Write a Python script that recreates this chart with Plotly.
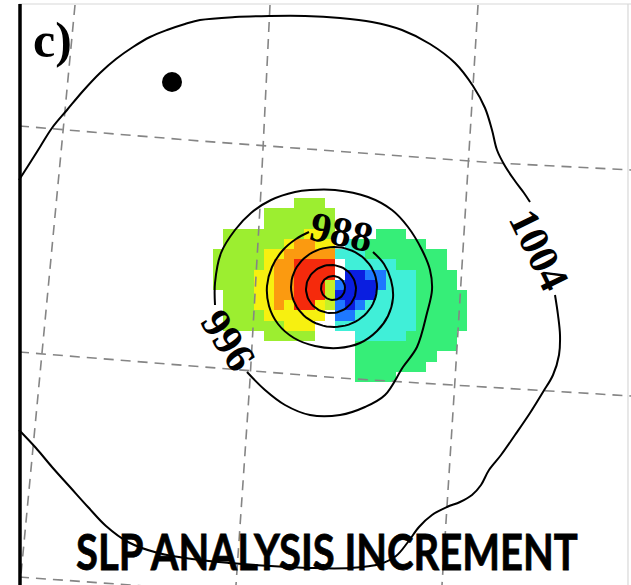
import numpy as np
import plotly.graph_objects as go

# ---------------- data ----------------
# SLP analysis increment (hPa) on the coloured model grid, one code per cell
cell_values = {"B": -2.8, "b": -2.0, "C": -1.0, "S": -0.5, "G": 0.3,
               "L": 0.7, "Y": 1.3, "O": 2.0, "R": 2.8}
grid_rows = [
    "........LLL..............",
    ".....LLLLLLL.............",
    ".....LLLLLLL.............",
    ".LLLLLLLLYYL....SSS......",
    ".LLLLLLYOOYY.CSSSSSSS....",
    "LLLLLYYOOOOOCCCSSSSSSSS..",
    "LLLLLYOORRRR.CCCCCSSSSS..",
    "LLLLYYOORRRR.BBbbCCCSSSS.",
    "LLLLYYOORRRGbBBBbCCCSSSS.",
    ".LLLYYOORRRGBBBBCCCCSSSSS",
    ".LLLYYOYRRYGbBbCCCCCSSSSS",
    ".LLLLYYYYYY.bbCCCCCCSSSSS",
    ".LLLLLLYYY..CCCCCCCCSSSSS",
    ".....LLLLL....CCCCCSSSSS.",
    "..............SSSSSSSSSS.",
    "..............SSSSSSSS...",
    "..............SSSSSSS....",
    "..............SSSS.......",
]

# SLP analysis contours (hPa), map coordinates
c1004_lower_x = [555, 558, 560, 559, 553, 543, 530, 515, 501, 489, 481, 472, 460, 447, 432, 419,
                 408, 396, 380, 350, 310, 270, 230, 192, 158, 128, 106, 88, 70, 52, 36, 19]
c1004_lower_y = [295, 315, 335, 355, 375, 392, 413, 435, 455, 470, 485, 495, 502, 507, 515, 527,
                 542, 556, 564, 568, 568, 566, 563, 559, 553, 542, 526, 507, 487, 467, 448, 430]
c1004_upper_x = [19, 28, 40, 52, 67, 83, 100, 116, 133, 150, 167, 185, 200, 235, 270, 305, 340,
                 372, 402, 430, 455, 473, 485, 492, 497, 505, 515, 524, 530]
c1004_upper_y = [180, 166, 147, 128, 110, 91, 73, 59, 47, 37, 30, 24, 20, 17, 16, 16, 18,
                 22, 30, 44, 63, 86, 108, 130, 150, 166, 181, 193, 202]
c996_x = [247, 265, 285, 310, 340, 365, 385, 403, 417, 427, 432, 430, 422, 408, 392, 368, 335,
          310, 295, 271, 251, 235, 221, 215, 215]
c996_y = [372, 390, 405, 415, 415, 407, 395, 367, 347, 313, 290, 270, 250, 227, 210, 197, 190,
          190, 192, 200, 213, 230, 253, 283, 305]
c988_x = [373, 384, 391, 393, 388, 377, 360, 338, 315, 294, 278, 269, 267, 272, 283, 296, 309]
c988_y = [252, 264, 280, 298, 316, 331, 343, 348, 346, 338, 324, 306, 286, 267, 250, 239, 232]
# inner closed contours (980, 972, 964 hPa): centre and radii
ring_cx = [334, 331, 333]
ring_cy = [287, 289, 288]
ring_rx = [43, 25, 12]
ring_ry = [40, 24, 12]

contour_labels = ["1004", "996", "988"]
label_x = [539, 228, 341]
label_y = [250, 340, 232]
label_angle = [64, 57, 12]

# lat/lon graticule (dashed)
grid_lines = [
    ([75, 20], [5, 585]),
    ([270, 261, 250, 236], [5, 190, 380, 585]),
    ([478, 467, 455, 442], [5, 190, 380, 585]),
    ([19, 200, 497, 631], [126, 141, 163, 170]),
    ([19, 220, 340, 420, 631], [352, 368, 378, 383, 396]),
    ([19, 200, 631], [577, 590, 620]),
]

station_x = [172]
station_y = [82]

panel_label = "c)"
title_text = "SLP ANALYSIS INCREMENT"

# ---------------- figure ----------------
colors = ["#0a1ee0", "#1e78ff", "#40efd8", "#36ee78", "#c6f028",
          "#9cee30", "#f7f010", "#fb9a10", "#f52a0c"]
vmin, vmax = -3.0, 3.0
bounds = [0, 0.1, 0.25, 0.375, 0.5, 0.58, 0.67, 0.78, 0.9, 1.0]
cscale = []
for i, col in enumerate(colors):
    cscale.append([bounds[i], col])
    cscale.append([bounds[i + 1], col])

z = np.array([[cell_values.get(ch, np.nan) for ch in row] for row in grid_rows], dtype=float)

fig = go.Figure()
fig.add_trace(go.Heatmap(z=z, x0=213 + 10.15 / 2, dx=10.15, y0=198 + 10.2 / 2, dy=10.2,
                         colorscale=cscale, zmin=vmin, zmax=vmax, showscale=False,
                         hoverinfo="skip"))

for gx, gy in grid_lines:
    fig.add_trace(go.Scatter(x=gx, y=gy, mode="lines", hoverinfo="skip",
                             line=dict(color="#858585", width=1.6, dash="10px,7px")))

line_style = dict(color="black", width=2, shape="spline", smoothing=1.0)
for cx, cy in [(c1004_lower_x, c1004_lower_y), (c1004_upper_x, c1004_upper_y),
               (c996_x, c996_y), (c988_x, c988_y)]:
    fig.add_trace(go.Scatter(x=cx, y=cy, mode="lines", line=line_style, hoverinfo="skip"))

t = np.linspace(0, 2 * np.pi, 73)
for cx, cy, rx, ry in zip(ring_cx, ring_cy, ring_rx, ring_ry):
    fig.add_trace(go.Scatter(x=cx + rx * np.cos(t), y=cy + ry * np.sin(t), mode="lines",
                             line=dict(color="black", width=2), hoverinfo="skip"))

fig.add_trace(go.Scatter(x=station_x, y=station_y, mode="markers", hoverinfo="skip",
                         marker=dict(color="black", size=20)))

# frame
fig.add_trace(go.Scatter(x=[19, 631], y=[4, 4], mode="lines", line=dict(color="#d8d8d8", width=1.2),
                         hoverinfo="skip"))
fig.add_trace(go.Scatter(x=[628, 628], y=[4, 585], mode="lines", line=dict(color="#d8d8d8", width=1.2),
                         hoverinfo="skip"))
fig.add_trace(go.Scatter(x=[20, 20], y=[4, 585], mode="lines", line=dict(color="black", width=3.5),
                         hoverinfo="skip"))

serif = "Liberation Serif, Times New Roman, serif"
for txt, lx, ly, ang in zip(contour_labels, label_x, label_y, label_angle):
    fig.add_annotation(x=lx, y=ly, text="<b>%s</b>" % txt, textangle=ang, showarrow=False,
                       font=dict(family=serif, size=42, color="black"))

fig.add_annotation(x=52, y=40, text="<b>%s</b>" % panel_label, showarrow=False,
                   font=dict(family=serif, size=50, color="black"))
fig.add_annotation(x=327, y=557, text="<b>%s</b>" % title_text, showarrow=False,
                   font=dict(family="Lato, Open Sans, sans-serif", size=40, color="black"))

fig.update_layout(width=631, height=585, margin=dict(l=0, r=0, t=0, b=0),
                  paper_bgcolor="white", plot_bgcolor="white", showlegend=False,
                  xaxis=dict(range=[0, 631], visible=False, fixedrange=True),
                  yaxis=dict(range=[585, 0], visible=False, fixedrange=True))

post_js = """
document.body.style.margin='0px';
document.body.style.overflow='hidden';
function stretchTitle(){
  var els = document.querySelectorAll('text.annotation-text');
  els.forEach(function(t){
    if (t.textContent.indexOf('SLP') === 0) {
      t.style.transformBox = 'fill-box';
      t.style.transformOrigin = 'center bottom';
      t.style.transform = 'scaleY(1.26)';
      t.style.stroke = 'black';
      t.style.strokeWidth = '0.6px';
    }
  });
}
stretchTitle();
setTimeout(stretchTitle, 50);
"""
fig.write_html("out.html", config={"displayModeBar": False}, post_script=post_js)
